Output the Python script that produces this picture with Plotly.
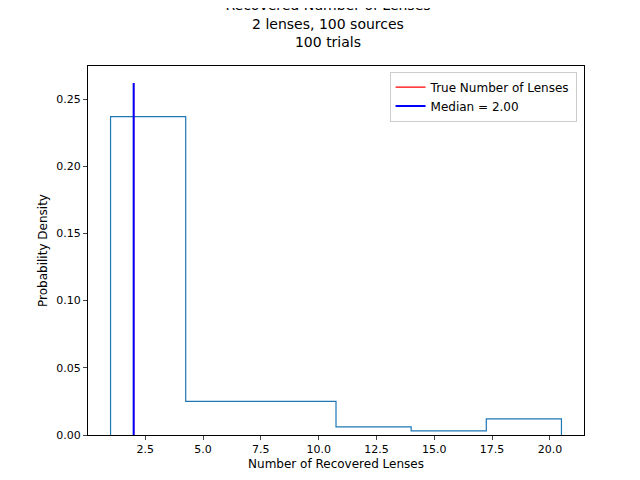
import plotly.graph_objects as go

# bin edges and density heights of the step histogram
edges = [1.0, 4.25, 7.5, 10.75, 14.0, 17.25, 20.5]
density = [0.237, 0.025, 0.025, 0.006, 0.003, 0.012]
true_n = 2.0
median = 2.0
line_top = 0.262

xs = [edges[0]]
ys = [0]
for i, d in enumerate(density):
    xs += [edges[i], edges[i + 1]]
    ys += [d, d]
xs.append(edges[-1])
ys.append(0)

fig = go.Figure()
fig.add_trace(go.Scatter(x=xs, y=ys, mode='lines', line=dict(color='#1f77b4', width=1.2),
                         showlegend=False, hoverinfo='skip'))
fig.add_trace(go.Scatter(x=[true_n, true_n], y=[0, line_top], mode='lines',
                         line=dict(color='red', width=1.2), name='True Number of Lenses'))
fig.add_trace(go.Scatter(x=[median, median], y=[0, line_top], mode='lines',
                         line=dict(color='blue', width=2), name='Median = %.2f' % median))

fig.update_layout(
    width=640, height=480, plot_bgcolor='white', paper_bgcolor='white',
    margin=dict(l=80, r=64, t=58, b=53, autoexpand=False),
    font=dict(family='DejaVu Sans', size=11, color='black'),
    title=dict(text='Recovered Number of Lenses<br>2 lenses, 100 sources<br>100 trials',
               x=0.5, xanchor='center', y=0.995, yanchor='top', font=dict(size=14)),
    legend=dict(x=0.985, y=0.985, xanchor='right', yanchor='top', bordercolor='#cccccc',
                borderwidth=1, bgcolor='white', font=dict(size=12)),
)
fig.update_xaxes(range=[0.025, 21.475], tickvals=[2.5, 5, 7.5, 10, 12.5, 15, 17.5, 20],
                 ticktext=['2.5', '5.0', '7.5', '10.0', '12.5', '15.0', '17.5', '20.0'],
                 showgrid=False, zeroline=False, showline=True, linecolor='black', mirror=True,
                 ticks='outside', ticklen=4, automargin=False,
                 title=dict(text='Number of Recovered Lenses', standoff=4, font=dict(size=12)))
fig.update_yaxes(range=[0, 0.2746], tickvals=[0, 0.05, 0.1, 0.15, 0.2, 0.25],
                 ticktext=['0.00', '0.05', '0.10', '0.15', '0.20', '0.25'],
                 showgrid=False, zeroline=False, showline=True, linecolor='black', mirror=True,
                 ticks='outside', ticklen=4, automargin=False,
                 title=dict(text='Probability Density', standoff=6, font=dict(size=12)))
fig.write_html('out.html')
